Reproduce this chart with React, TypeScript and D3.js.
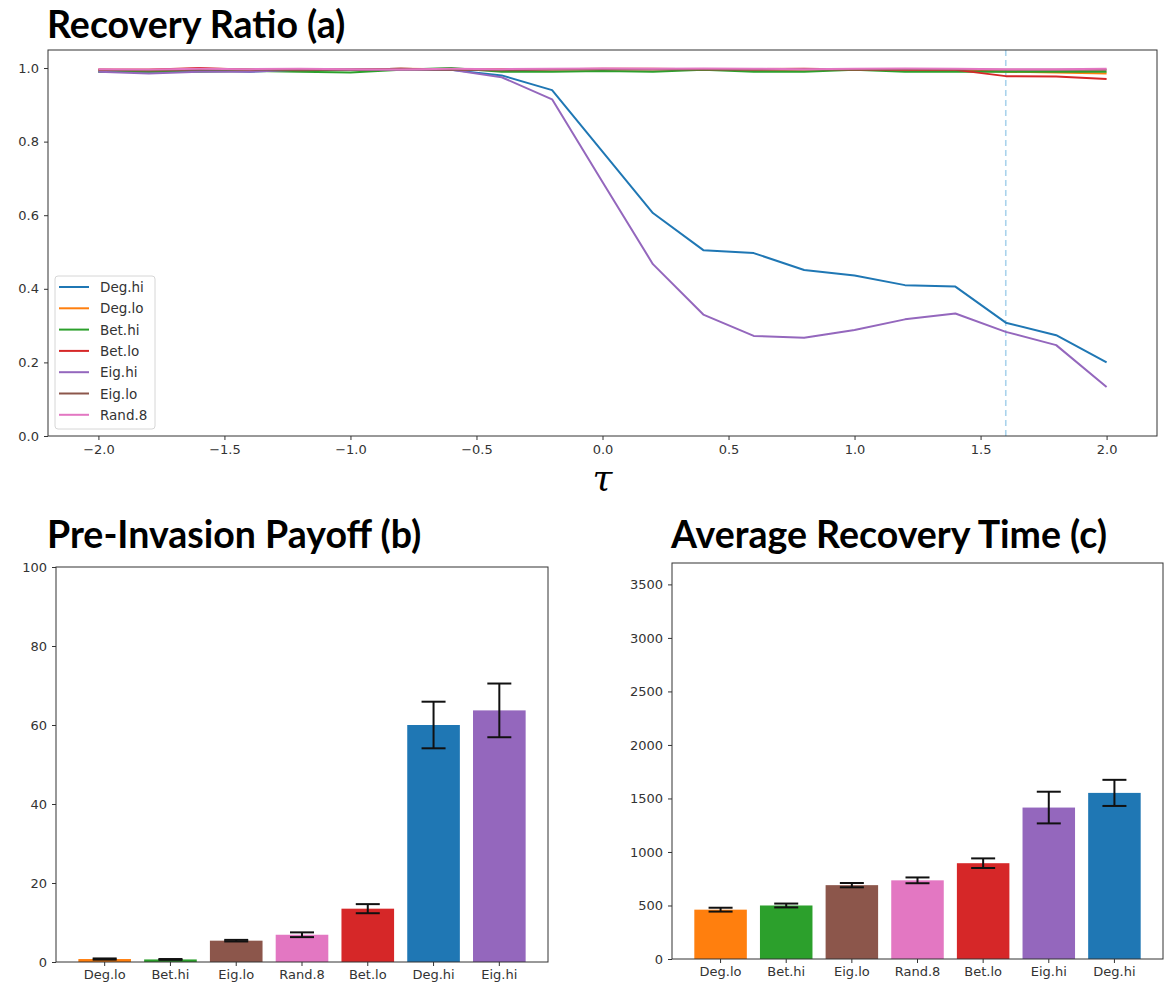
import React, { useEffect, useRef } from 'react';
import * as d3 from 'd3';

// tau values for panel (a)
const taus = [-2.0, -1.8, -1.6, -1.4, -1.2, -1.0, -0.8, -0.6, -0.4, -0.2, 0.0, 0.2, 0.4, 0.6, 0.8, 1.0, 1.2, 1.4, 1.6, 1.8, 2.0];

const degHi = [0.99, 0.99, 0.995, 0.99, 0.995, 0.995, 0.998, 0.995, 0.98, 0.94, 0.773, 0.606, 0.505, 0.497, 0.451, 0.436, 0.41, 0.406, 0.308, 0.274, 0.2];
const degLo = [0.995, 0.995, 0.998, 0.995, 0.997, 0.995, 0.998, 0.997, 0.996, 0.997, 0.996, 0.997, 0.996, 0.995, 0.996, 0.997, 0.995, 0.994, 0.99, 0.988, 0.985];
const betHi = [0.99, 0.99, 0.99, 0.992, 0.99, 0.988, 0.995, 1.0, 0.99, 0.99, 0.992, 0.99, 0.995, 0.99, 0.99, 0.995, 0.99, 0.99, 0.99, 0.99, 0.99];
const betLo = [0.995, 0.995, 1.0, 0.995, 0.997, 0.995, 0.998, 0.995, 0.996, 0.997, 0.998, 0.998, 0.997, 0.997, 0.998, 0.996, 0.995, 0.995, 0.978, 0.977, 0.97];
const eigHi = [0.99, 0.985, 0.99, 0.99, 0.995, 0.995, 0.995, 0.995, 0.975, 0.915, 0.69, 0.467, 0.33, 0.272, 0.267, 0.288, 0.317, 0.333, 0.283, 0.247, 0.133];
const eigLo = [0.995, 0.993, 0.995, 0.996, 0.994, 0.996, 0.997, 0.995, 0.994, 0.996, 0.997, 0.996, 0.997, 0.995, 0.996, 0.996, 0.997, 0.996, 0.995, 0.995, 0.995];
const rand8 = [0.997, 0.996, 0.998, 0.997, 0.998, 0.997, 0.996, 0.998, 0.997, 0.998, 0.999, 0.998, 0.999, 0.998, 0.997, 0.998, 0.999, 0.998, 0.997, 0.997, 0.998];

const seriesNames = ['Deg.hi', 'Deg.lo', 'Bet.hi', 'Bet.lo', 'Eig.hi', 'Eig.lo', 'Rand.8'];
const seriesValues = [degHi, degLo, betHi, betLo, eigHi, eigLo, rand8];
const thresholdTau = 1.6;

// panel (b)
const payoffCats = ['Deg.lo', 'Bet.hi', 'Eig.lo', 'Rand.8', 'Bet.lo', 'Deg.hi', 'Eig.hi'];
const payoffVals = [0.75, 0.65, 5.4, 6.9, 13.5, 60.0, 63.7];
const payoffErr = [0.15, 0.1, 0.2, 0.6, 1.15, 5.9, 6.8];

// panel (c)
const timeCats = ['Deg.lo', 'Bet.hi', 'Eig.lo', 'Rand.8', 'Bet.lo', 'Eig.hi', 'Deg.hi'];
const timeVals = [461, 500, 690, 735, 895, 1415, 1552];
const timeErr = [18, 18, 20, 27, 45, 148, 122];

const colors = {
    'Deg.hi': '#1f77b4',
    'Deg.lo': '#ff7f0e',
    'Bet.hi': '#2ca02c',
    'Bet.lo': '#d62728',
    'Eig.hi': '#9467bd',
    'Eig.lo': '#8c564b',
    'Rand.8': '#e377c2',
};

const TICK_FONT = '"DejaVu Sans", sans-serif';
const TITLE_FONT = 'Lato, "Open Sans", sans-serif';
const AXIS_COLOR = '#333';

const styleAxis = (g) => {
    g.selectAll('path').attr('stroke', AXIS_COLOR);
    g.selectAll('line').attr('stroke', AXIS_COLOR);
    g.selectAll('text')
        .attr('fill', '#333')
        .style('font-family', TICK_FONT)
        .style('font-size', '13px');
};

const drawFrame = (svg, x0, y0, x1, y1) => {
    svg.append('rect')
        .attr('x', x0)
        .attr('y', y0)
        .attr('width', x1 - x0)
        .attr('height', y1 - y0)
        .attr('fill', 'none')
        .attr('stroke', AXIS_COLOR)
        .attr('stroke-width', 1);
};

const drawTitle = (svg, text, x, y) => {
    svg.append('text')
        .attr('x', x)
        .attr('y', y)
        .style('font-family', TITLE_FONT)
        .style('font-weight', 'bold')
        .style('font-size', '37.5px')
        .attr('fill', '#000')
        .text(text);
};

const drawLinePanel = (svg) => {
    const left = 48;
    const right = 1157;
    const top = 50;
    const bottom = 436;

    const x = d3.scaleLinear().domain([-2.2, 2.2]).range([left, right]);
    const y = d3.scaleLinear().domain([0, 1.049]).range([bottom, top]);

    drawTitle(svg, 'Recovery Ratio (a)', 47, 38);

    // threshold line
    svg.append('line')
        .attr('x1', x(thresholdTau))
        .attr('x2', x(thresholdTau))
        .attr('y1', top)
        .attr('y2', bottom)
        .attr('stroke', '#a9d3ec')
        .attr('stroke-width', 1.6)
        .attr('stroke-dasharray', '6,4');

    const line = d3.line()
        .x((d, i) => x(taus[i]))
        .y((d) => y(d));

    seriesValues.forEach((vals, i) => {
        svg.append('path')
            .datum(vals)
            .attr('d', line)
            .attr('fill', 'none')
            .attr('stroke', colors[seriesNames[i]])
            .attr('stroke-width', 2)
            .attr('stroke-linejoin', 'round');
    });

    const xAxis = svg.append('g')
        .attr('transform', `translate(0,${bottom})`)
        .call(d3.axisBottom(x)
            .tickValues([-2.0, -1.5, -1.0, -0.5, 0.0, 0.5, 1.0, 1.5, 2.0])
            .tickSize(4)
            .tickPadding(5)
            .tickFormat((d) => d3.format('.1f')(d).replace('-', '\u2212')));
    styleAxis(xAxis);
    xAxis.select('.domain').remove();

    const yAxis = svg.append('g')
        .attr('transform', `translate(${left},0)`)
        .call(d3.axisLeft(y)
            .tickValues([0, 0.2, 0.4, 0.6, 0.8, 1.0])
            .tickSize(4)
            .tickPadding(5)
            .tickFormat(d3.format('.1f')));
    styleAxis(yAxis);
    yAxis.select('.domain').remove();

    drawFrame(svg, left, top, right, bottom);

    // tau axis label
    svg.append('text')
        .attr('x', x(0))
        .attr('y', 490)
        .attr('text-anchor', 'middle')
        .style('font-family', '"DejaVu Serif", serif')
        .style('font-style', 'italic')
        .style('font-size', '36px')
        .attr('fill', '#000')
        .text('\u03c4');

    // legend
    const legend = svg.append('g').attr('transform', 'translate(55,276)');
    legend.append('rect')
        .attr('width', 100)
        .attr('height', 153)
        .attr('rx', 3)
        .attr('fill', '#fff')
        .attr('fill-opacity', 0.8)
        .attr('stroke', '#d6d6d6');
    seriesNames.forEach((name, i) => {
        const ly = 11 + i * 21.3;
        legend.append('line')
            .attr('x1', 4)
            .attr('x2', 34)
            .attr('y1', ly)
            .attr('y2', ly)
            .attr('stroke', colors[name])
            .attr('stroke-width', 2);
        legend.append('text')
            .attr('x', 45)
            .attr('y', ly + 5)
            .style('font-family', TICK_FONT)
            .style('font-size', '13.5px')
            .attr('fill', '#333')
            .text(name);
    });
};

const drawBarPanel = (svg, opts) => {
    const { cats, vals, errs, left, right, top, bottom, yMax, yTicks, title } = opts;

    const x = d3.scaleBand()
        .domain(cats)
        .range([left, right])
        .paddingInner(0.2)
        .paddingOuter(0.34);
    const y = d3.scaleLinear().domain([0, yMax]).range([bottom, top]);

    drawTitle(svg, title, opts.titleX, opts.titleY);

    svg.append('g')
        .selectAll('rect')
        .data(cats)
        .join('rect')
        .attr('x', (d) => x(d))
        .attr('y', (d, i) => y(vals[i]))
        .attr('width', x.bandwidth())
        .attr('height', (d, i) => y(0) - y(vals[i]))
        .attr('fill', (d) => colors[d]);

    const cap = 12;
    const err = svg.append('g').attr('stroke', '#111').attr('stroke-width', 2);
    cats.forEach((c, i) => {
        const cx = x(c) + x.bandwidth() / 2;
        const yHi = y(vals[i] + errs[i]);
        const yLo = y(vals[i] - errs[i]);
        err.append('line').attr('x1', cx).attr('x2', cx).attr('y1', yHi).attr('y2', yLo);
        err.append('line').attr('x1', cx - cap).attr('x2', cx + cap).attr('y1', yHi).attr('y2', yHi);
        err.append('line').attr('x1', cx - cap).attr('x2', cx + cap).attr('y1', yLo).attr('y2', yLo);
    });

    const xAxis = svg.append('g')
        .attr('transform', `translate(0,${bottom})`)
        .call(d3.axisBottom(x).tickSize(4).tickPadding(4));
    styleAxis(xAxis);
    xAxis.select('.domain').remove();

    const yAxis = svg.append('g')
        .attr('transform', `translate(${left},0)`)
        .call(d3.axisLeft(y).tickValues(yTicks).tickSize(4).tickPadding(5).tickFormat(d3.format('d')));
    styleAxis(yAxis);
    yAxis.select('.domain').remove();

    drawFrame(svg, left, top, right, bottom);
};

const App = () => {
    const ref = useRef(null);

    useEffect(() => {
        document.body.style.margin = '0';
        const svg = d3.select(ref.current);
        svg.selectAll('*').remove();

        drawLinePanel(svg);

        drawBarPanel(svg, {
            cats: payoffCats,
            vals: payoffVals,
            errs: payoffErr,
            left: 56,
            right: 548,
            top: 567,
            bottom: 962,
            yMax: 100,
            yTicks: [0, 20, 40, 60, 80, 100],
            title: 'Pre-Invasion Payoff (b)',
            titleX: 47,
            titleY: 548,
        });

        drawBarPanel(svg, {
            cats: timeCats,
            vals: timeVals,
            errs: timeErr,
            left: 672,
            right: 1163,
            top: 563,
            bottom: 959,
            yMax: 3700,
            yTicks: [0, 500, 1000, 1500, 2000, 2500, 3000, 3500],
            title: 'Average Recovery Time (c)',
            titleX: 671,
            titleY: 548,
        });
    }, []);

    return (
        <svg ref={ref} width={1166} height={986} style={{ display: 'block', background: '#fff' }} />
    );
};

export default App;
